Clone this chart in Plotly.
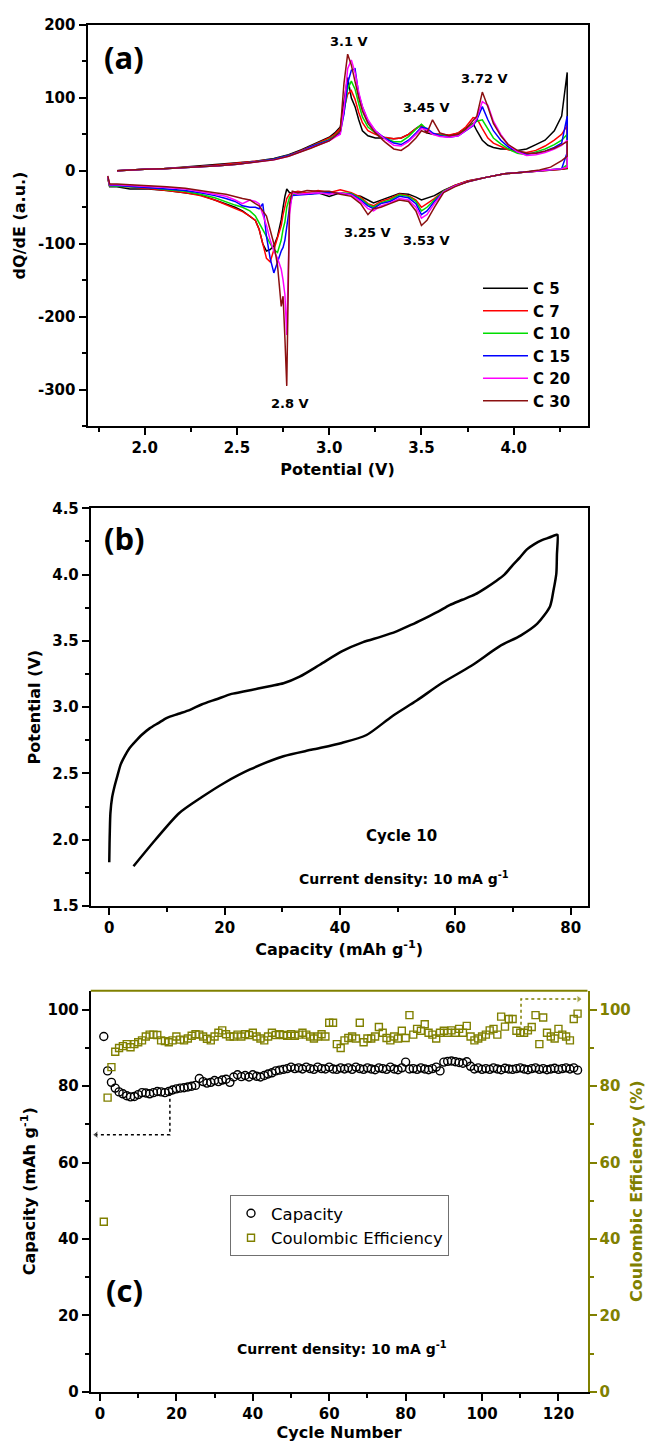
import plotly.graph_objects as go

# ---------------- Panel (a): dQ/dE curves ----------------
series_names = ["C 5", "C 7", "C 10", "C 15", "C 20", "C 30"]
series_colors = ["#000000", "#ff0000", "#00dd00", "#0000ff", "#ff00ff", "#8b1010"]

charge_v = [1.85, 1.90, 2.00, 2.10, 2.20, 2.30, 2.40, 2.50, 2.60, 2.70, 2.78, 2.85, 2.90, 2.95, 3.00, 3.03, 3.06,
            3.08, 3.10, 3.12, 3.14, 3.16, 3.18, 3.21,
            3.25, 3.30, 3.35, 3.39, 3.43, 3.47, 3.50, 3.53, 3.56, 3.60, 3.65, 3.70, 3.74, 3.78, 3.80, 3.83,
            3.86, 3.89, 3.93, 3.97, 4.02, 4.07, 4.12, 4.17, 4.22, 4.26, 4.29]

charge_c5 = [0, 1, 2, 3, 5, 6, 8, 10, 13, 17, 22, 29, 35, 40, 46, 52, 60, 95, 128, 100, 88, 70, 55, 48,
             45, 45, 44, 45, 50, 58, 63, 52, 50, 50, 48, 52, 58, 65, 55, 42, 35, 32, 30, 30, 28, 30, 36, 42, 55, 75, 135]
charge_c7 = [0, 1, 2, 3, 4, 6, 8, 10, 13, 16, 21, 28, 34, 39, 45, 50, 58, 85, 105, 110, 98, 80, 66, 55,
             50, 46, 44, 45, 50, 58, 62, 55, 50, 50, 49, 52, 60, 73, 72, 58, 45, 38, 33, 29, 26, 25, 28, 34, 42, 50, 62]
charge_c10 = [0, 1, 2, 3, 4, 6, 7, 9, 12, 16, 21, 27, 33, 38, 43, 48, 55, 80, 112, 123, 112, 92, 74, 60,
              52, 45, 40, 40, 47, 57, 64, 57, 50, 49, 47, 50, 57, 65, 68, 70, 57, 45, 37, 30, 24, 22, 26, 30, 36, 42, 50]
charge_c15 = [0, 1, 2, 3, 4, 5, 7, 9, 12, 16, 21, 27, 33, 37, 42, 47, 52, 78, 120, 138, 140, 105, 88, 68,
              55, 45, 38, 36, 42, 52, 60, 58, 52, 48, 46, 48, 55, 62, 70, 88, 70, 55, 42, 33, 26, 23, 24, 27, 32, 38, 75]
charge_c20 = [0, 1, 2, 3, 4, 5, 7, 9, 12, 15, 20, 27, 32, 36, 41, 46, 50, 85, 140, 152, 135, 108, 88, 70,
              55, 44, 35, 34, 40, 50, 58, 56, 50, 47, 46, 48, 55, 63, 72, 95, 90, 68, 50, 36, 26, 21, 22, 25, 30, 35, 42]
charge_c30 = [0, 1, 2, 3, 4, 5, 7, 9, 12, 15, 20, 26, 31, 36, 41, 47, 55, 120, 160, 145, 120, 100, 82, 65,
              52, 40, 30, 28, 35, 45, 55, 52, 70, 52, 48, 50, 57, 68, 75, 108, 88, 65, 48, 36, 28, 24, 24, 27, 31, 36, 40]

discharge_v = [4.29, 4.26, 4.20, 4.14, 4.05, 3.95, 3.85, 3.75, 3.68, 3.62,
               3.57, 3.53, 3.50, 3.47, 3.43, 3.38, 3.33, 3.28, 3.24, 3.21, 3.17, 3.12, 3.06, 3.00, 2.94, 2.88, 2.83,
               2.80, 2.785, 2.77, 2.76, 2.75, 2.74, 2.72, 2.70, 2.68, 2.66, 2.64, 2.62, 2.60, 2.57, 2.53,
               2.49, 2.44, 2.38, 2.30, 2.22, 2.12, 2.02, 1.92, 1.85, 1.81, 1.80]

discharge_c5 = [3, 2, 1, 0, -2, -4, -9, -14, -20, -27,
                -34, -37, -40, -36, -32, -31, -36, -40, -44, -40, -35, -33, -30, -35, -30, -32, -30,
                -30, -30, -25, -35, -50, -67, -90, -103, -108, -110, -100, -80, -68, -62, -55,
                -50, -45, -40, -33, -30, -27, -25, -25, -22, -22, -10]
discharge_c7 = [4, 2, 1, 0, -2, -4, -9, -14, -20, -28,
                -38, -45, -50, -40, -34, -32, -38, -42, -48, -45, -36, -30, -26, -30, -27, -30, -28,
                -30, -32, -38, -48, -60, -75, -92, -110, -125, -120, -100, -80, -68, -62, -56,
                -52, -46, -40, -34, -30, -27, -24, -22, -21, -21, -10]
discharge_c10 = [8, 3, 1, 0, -2, -4, -9, -15, -21, -28,
                 -40, -50, -55, -42, -35, -33, -40, -44, -50, -46, -38, -31, -30, -30, -30, -31, -32,
                 -33, -36, -50, -70, -80, -95, -112, -108, -100, -90, -80, -70, -62, -55, -50,
                 -47, -42, -37, -32, -28, -26, -23, -22, -21, -21, -9]
discharge_c15 = [25, 3, 1, 0, -2, -4, -9, -15, -21, -29,
                 -42, -55, -60, -45, -37, -35, -42, -45, -52, -48, -40, -32, -31, -30, -31, -32, -33,
                 -34, -50, -76, -95, -105, -110, -125, -140, -120, -90, -45, -52, -50, -50, -48,
                 -42, -38, -34, -30, -27, -25, -23, -21, -20, -20, -8]
discharge_c20 = [5, 3, 1, 0, -2, -4, -9, -15, -21, -29,
                 -45, -60, -65, -50, -40, -38, -44, -48, -55, -52, -42, -33, -30, -32, -30, -31, -32,
                 -30, -60, -225, -170, -150, -135, -120, -110, -95, -75, -60, -45, -42, -40, -45,
                 -40, -35, -32, -28, -25, -23, -21, -20, -19, -19, -8]
discharge_c30 = [20, 14, 5, 1, -2, -4, -9, -15, -22, -30,
                 -50, -68, -75, -55, -42, -40, -45, -50, -52, -60, -45, -35, -32, -28, -28, -27, -30,
                 -28, -45, -295, -230, -172, -186, -130, -100, -80, -62, -55, -48, -45, -40, -38,
                 -35, -32, -30, -27, -24, -22, -20, -19, -18, -18, -7]

charge_sets = [charge_c5, charge_c7, charge_c10, charge_c15, charge_c20, charge_c30]
discharge_sets = [discharge_c5, discharge_c7, discharge_c10, discharge_c15, discharge_c20, discharge_c30]

peak_labels = ["3.1 V", "3.45 V", "3.72 V", "3.25 V", "3.53 V", "2.8 V"]
peak_label_v = [3.11, 3.53, 3.84, 3.21, 3.53, 2.79]
peak_label_q = [178, 87, 127, -84, -96, -319]

# ---------------- Panel (b): cycle 10 profile ----------------
charge_cap_b = [0.0, 0.05, 0.1, 0.2, 0.5, 0.9, 1.4, 2.0, 2.8, 3.5, 4.5, 5.6, 7.0, 8.5, 10.0, 12.0, 14.0, 16.0,
                18.6, 21.2, 23.5, 25.8, 28.0, 30.2, 33.0, 36.5, 40.3, 44.0, 47.0, 49.7, 52.3, 54.7, 57.0,
                59.0, 61.2, 63.4, 65.3, 67.0, 68.5, 69.9, 71.2, 72.4, 73.7, 75.0, 76.3, 77.5]
charge_pot_b = [1.83, 1.97, 2.07, 2.20, 2.32, 2.40, 2.48, 2.57, 2.64, 2.69, 2.74, 2.79, 2.84, 2.88, 2.92, 2.95,
                2.98, 3.02, 3.06, 3.10, 3.12, 3.14, 3.16, 3.18, 3.23, 3.32, 3.42, 3.49, 3.53, 3.57, 3.62,
                3.67, 3.72, 3.77, 3.81, 3.85, 3.90, 3.95, 4.00, 4.07, 4.13, 4.19, 4.23, 4.26, 4.28, 4.30]
discharge_cap_b = [77.7, 77.6, 77.5, 77.0, 76.4, 74.2, 71.3, 67.7, 62.7, 57.6, 53.3, 49.0, 44.6, 40.3,
                   35.2, 30.2, 24.4, 20.0, 16.0, 12.1, 8.0, 4.2]
discharge_pot_b = [4.30, 4.15, 4.01, 3.88, 3.76, 3.63, 3.54, 3.46, 3.31, 3.18, 3.05, 2.93, 2.79, 2.73,
                   2.68, 2.63, 2.53, 2.43, 2.32, 2.20, 2.00, 1.80]

# ---------------- Panel (c): cycling ----------------
capacity = [93, 84, 81, 79.5, 78.5, 78, 77.5, 77.2, 77.3, 77.8,
            78.3, 78.2, 78, 78.3, 78.6, 78.5, 78.3, 78.6, 79, 79.3,
            79.5, 79.6, 79.8, 80, 80.2, 82, 81.2, 80.8, 81, 81.5,
            81.2, 81.6, 81.8, 81, 82.4, 83, 82.5, 82.8, 82.4, 83,
            82.6, 82.4, 82.8, 83.2, 83.5, 84, 84.2, 84.4, 84.6, 85,
            84.6, 84.8, 84.5, 85, 84.6, 84.4, 85, 84.6, 84.5, 85,
            84.5, 84.4, 84.8, 84.5, 84.8, 84.4, 85, 84.6, 84.4, 84.8,
            84.5, 84.3, 84.8, 84.6, 84.4, 85, 84.5, 84.3, 84.8, 86.3,
            84.5, 84.6, 84.4, 84.8, 84.5, 84.3, 84.6, 85, 84, 86.3,
            86.5, 86.6, 86.4, 86.2, 86, 86.4, 85.2, 84.5, 84.8, 84.4,
            84.6, 84.4, 84.8, 84.5, 84.3, 84.7, 84.5, 84.4, 84.6, 84.8,
            84.5, 84.3, 84.6, 84.8, 84.4, 84.6, 84.3, 84.5, 84.7, 84.4,
            84.6, 84.8, 84.5, 84.8, 84.2]
coulombic_eff = [44.5, 77, 85, 89, 90, 90.5, 91, 90.2, 91, 91.5,
                 92, 93, 93.5, 93.5, 93.4, 92, 91.8, 91.5, 92, 93,
                 92.2, 92, 92.5, 93.2, 93.6, 93.5, 93, 92.4, 92, 93,
                 94, 94.6, 93.6, 93, 93, 93.5, 93, 93.6, 93.4, 94,
                 93, 92.5, 92, 93, 94, 93.4, 93.6, 93.4, 93.2, 93.6,
                 93.2, 93.5, 94, 93.5, 93, 92.5, 93, 93.6, 93, 96.6,
                 96.6, 91, 90, 92, 92.6, 93, 92.5, 96.6, 91.5, 92.5,
                 92.5, 93, 95.5, 94, 92.6, 92, 93, 92.5, 94.5, 92.6,
                 98.6, 93.5, 95, 94.5, 96.2, 94, 93.5, 92.5, 94, 94.5,
                 94, 94.6, 94, 95, 94, 95.8, 93, 92, 92.5, 93,
                 93.5, 94.6, 95, 93.5, 98.2, 95.6, 97.6, 97.6, 94.5, 94,
                 94, 94.6, 95.5, 98.6, 91, 98, 94, 93, 92.5, 95,
                 93.5, 93, 92, 97.6, 99]
cycles = list(range(1, len(capacity) + 1))

cap_arrow_x = [18.3, 18.3, -1.0]
cap_arrow_y = [78.3, 67.3, 67.3]
ce_arrow_x = [110.2, 110.2, 125.3]
ce_arrow_y = [94.5, 102.8, 102.8]

OLIVE = "#808000"
W, H = 646, 1445

def px_x(p):
    return p / W

def px_y(p):
    return 1 - p / H

TICKFONT = dict(family="DejaVu Sans", size=15, color="black", weight="bold")
HTITLE = dict(family="DejaVu Sans", size=16, color="black", weight="bold")
VTITLE = dict(family="DejaVu Sans", size=16, color="black", weight="bold")
ANNFONT = dict(family="DejaVu Sans", size=13, color="black", weight="bold")
BIGFONT = dict(family="Open Sans", size=31, color="black", weight="bold")

fig = go.Figure()

for name, color, ch, dis in zip(series_names, series_colors, charge_sets, discharge_sets):
    fig.add_trace(go.Scatter(x=charge_v + discharge_v, y=ch + dis, mode="lines", name=name,
                             line=dict(color=color, width=1.5), xaxis="x", yaxis="y", legend="legend"))

fig.add_trace(go.Scatter(x=charge_cap_b + discharge_cap_b, y=charge_pot_b + discharge_pot_b, mode="lines",
                         line=dict(color="black", width=2.5, shape="spline", smoothing=0.7),
                         showlegend=False, xaxis="x2", yaxis="y2"))

fig.add_trace(go.Scatter(x=cycles, y=capacity, mode="markers", name="Capacity",
                         marker=dict(symbol="circle-open", size=8, color="black", line=dict(width=1.4)),
                         xaxis="x3", yaxis="y3", legend="legend2"))
fig.add_trace(go.Scatter(x=cycles, y=coulombic_eff, mode="markers", name="Coulombic Efficiency",
                         marker=dict(symbol="square-open", size=7, color=OLIVE, line=dict(width=1.4)),
                         xaxis="x3", yaxis="y4", legend="legend2"))

fig.add_trace(go.Scatter(x=cap_arrow_x, y=cap_arrow_y, mode="lines+markers",
                         line=dict(color="black", width=1.5, dash="dot"),
                         marker=dict(symbol="triangle-left", size=[0, 0, 7], color="black"),
                         showlegend=False, xaxis="x3", yaxis="y3"))
fig.add_trace(go.Scatter(x=ce_arrow_x, y=ce_arrow_y, mode="lines+markers",
                         line=dict(color=OLIVE, width=1.5, dash="dot"),
                         marker=dict(symbol="triangle-right", size=[0, 0, 7], color=OLIVE),
                         showlegend=False, xaxis="x3", yaxis="y4"))

common_axis = dict(showgrid=False, zeroline=False, showline=True, linewidth=2, linecolor="black",
                   ticks="outside", ticklen=7, tickwidth=2, tickcolor="black", tickfont=TICKFONT,
                   automargin=False)

xa_dom = [px_x(87.5), px_x(587.5)]
xb_dom = [px_x(90.8), px_x(587.5)]

fig.update_layout(
    width=W, height=H, margin=dict(l=0, r=0, t=0, b=0),
    plot_bgcolor="white", paper_bgcolor="white",
    xaxis=dict(common_axis, domain=xa_dom, anchor="y", range=[1.69, 4.40], mirror=True,
               tick0=2.0, dtick=0.5, tickformat=".1f",
               minor=dict(dtick=0.25, ticks="outside", ticklen=4, tickwidth=2, tickcolor="black"),
               title=dict(text="Potential (V)", font=HTITLE, standoff=8)),
    yaxis=dict(common_axis, domain=[px_y(426), px_y(25)], anchor="x", range=[-350, 200], mirror=True,
               tickvals=[-300, -200, -100, 0, 100, 200], ticktext=["-300", "-200", "-100", "0", "100", "200"],
               minor=dict(dtick=50, ticks="outside", ticklen=4, tickwidth=2, tickcolor="black"),
               title=dict(text="dQ/dE (a.u.)", font=VTITLE, standoff=8)),
    xaxis2=dict(common_axis, domain=xb_dom, anchor="y2", range=[-3.2, 82.9], mirror=True,
                tick0=0, dtick=20,
                minor=dict(dtick=10, ticks="outside", ticklen=4, tickwidth=2, tickcolor="black"),
                title=dict(text="Capacity (mAh g<sup>-1</sup>)", font=HTITLE, standoff=8)),
    yaxis2=dict(common_axis, domain=[px_y(906), px_y(508.3)], anchor="x2", range=[1.5, 4.5], mirror=True,
                tick0=1.5, dtick=0.5, tickformat=".1f",
                minor=dict(dtick=0.25, ticks="outside", ticklen=4, tickwidth=2, tickcolor="black"),
                title=dict(text="Potential (V)", font=VTITLE, standoff=8)),
    xaxis3=dict(common_axis, domain=xb_dom, anchor="y3", range=[-2.4, 127.6],
                tick0=0, dtick=20,
                minor=dict(dtick=10, ticks="outside", ticklen=4, tickwidth=2, tickcolor="black"),
                title=dict(text="Cycle Number", font=HTITLE, standoff=4)),
    yaxis3=dict(common_axis, domain=[px_y(1391.7), px_y(990.7)], anchor="x3", range=[0, 105],
                tick0=0, dtick=20,
                minor=dict(dtick=10, ticks="outside", ticklen=4, tickwidth=2, tickcolor="black"),
                title=dict(text="Capacity (mAh g<sup>-1</sup>)", font=VTITLE, standoff=8)),
    yaxis4=dict(common_axis, overlaying="y3", anchor="x3", side="right", range=[0, 105],
                tick0=0, dtick=20, linecolor=OLIVE, tickcolor=OLIVE,
                tickfont=dict(TICKFONT, color=OLIVE),
                minor=dict(dtick=10, ticks="outside", ticklen=4, tickwidth=2, tickcolor=OLIVE),
                title=dict(text="Coulombic Efficiency (%)", font=dict(VTITLE, color=OLIVE), standoff=4)),
    legend=dict(x=px_x(478), y=px_y(272), xanchor="left", yanchor="top", bgcolor="rgba(0,0,0,0)",
                font=dict(family="DejaVu Sans", size=15, color="black", weight="bold"),
                itemwidth=45, tracegroupgap=0),
    legend2=dict(x=px_x(230), y=px_y(1195), xanchor="left", yanchor="top", bgcolor="white",
                 bordercolor="#707070", borderwidth=1,
                 font=dict(family="DejaVu Sans", size=16.5, color="black")),
    shapes=[dict(type="line", xref="x3 domain", yref="y3 domain", x0=0, x1=1, y0=1, y1=1,
                 line=dict(color=OLIVE, width=2))],
)

annotations = []
for txt, xv, yv in zip(peak_labels, peak_label_v, peak_label_q):
    annotations.append(dict(text=txt, x=xv, y=yv, xref="x", yref="y", showarrow=False, font=ANNFONT))
annotations += [
    dict(text="(a)", x=1.89, y=156, xref="x", yref="y", showarrow=False, font=BIGFONT),
    dict(text="(b)", x=2.7, y=4.276, xref="x2", yref="y2", showarrow=False, font=BIGFONT),
    dict(text="Cycle 10", x=50.7, y=2.03, xref="x2", yref="y2", showarrow=False,
         font=dict(ANNFONT, size=15)),
    dict(text="Current density: 10 mA g<sup>-1</sup>", x=51.1, y=1.71, xref="x2", yref="y2",
         showarrow=False, font=dict(ANNFONT, size=14)),
    dict(text="(c)", x=6.5, y=26.6, xref="x3", yref="y3", showarrow=False, font=BIGFONT),
    dict(text="Current density: 10 mA g<sup>-1</sup>", x=63.4, y=11.4, xref="x3", yref="y3",
         showarrow=False, font=dict(ANNFONT, size=14)),
]
fig.update_layout(annotations=annotations)

fig.write_html("out.html", config={"displayModeBar": False},
               post_script="document.body.style.margin='0';")
